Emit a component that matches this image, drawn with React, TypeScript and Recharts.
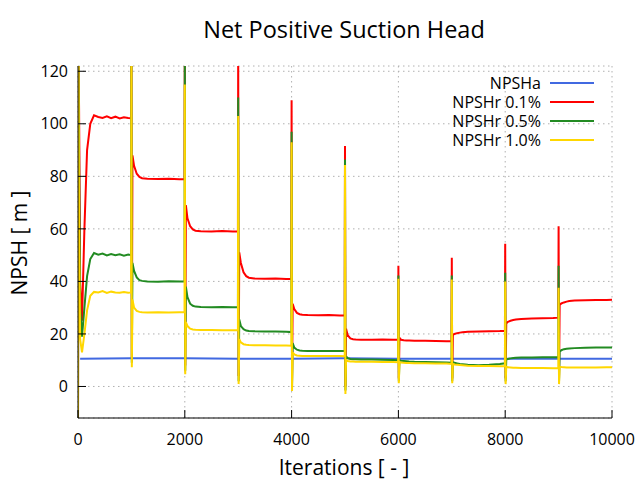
import { LineChart, Line, XAxis, YAxis, CartesianGrid } from 'recharts'

// sample iterations shared by the three NPSHr series
const iterations = [
  0, 8, 20, 40, 75, 120, 170, 230, 300, 380, 460, 540, 620, 700, 780, 860, 940, 995,
  1000, 1008, 1020, 1050, 1100, 1150, 1200, 1300, 1500, 1700, 1900, 1995,
  2000, 2008, 2020, 2050, 2100, 2150, 2200, 2300, 2500, 2700, 2900, 2995,
  3000, 3008, 3020, 3050, 3100, 3150, 3200, 3300, 3500, 3700, 3900, 3995,
  4000, 4008, 4020, 4050, 4100, 4150, 4200, 4300, 4500, 4700, 4900, 4995,
  5000, 5008, 5020, 5050, 5100, 5150, 5200, 5300, 5500, 5700, 5900, 5995,
  6000, 6008, 6020, 6050, 6100, 6150, 6200, 6300, 6500, 6700, 6900, 6995,
  7000, 7008, 7020, 7050, 7100, 7150, 7200, 7300, 7500, 7700, 7900, 7995,
  8000, 8008, 8020, 8050, 8100, 8150, 8200, 8300, 8500, 8700, 8900, 8995,
  9000, 9008, 9020, 9050, 9100, 9150, 9200, 9300, 9500, 9700, 9900, 10000,
]

const npshr01 = [
  -20, 130, 106, 40, 25, 60, 90, 100, 103.2, 102.6, 102.2, 102.8, 102.1, 102.7, 102.0, 102.5, 102.2, 102.1,
  130, 11, 88, 84, 81, 79.8, 79.3, 79.1, 79.0, 79.1, 78.9, 79.0,
  130, 8, 69, 64, 61, 59.8, 59.3, 59.1, 59.0, 59.2, 59.0, 59.1,
  130, 4, 51, 47, 43.5, 42, 41.4, 41.1, 41.0, 41.1, 40.9, 41.0,
  109, 2, 31.5, 29.5, 28, 27.5, 27.3, 27.2, 27.1, 27.2, 27.0, 27.1,
  91.5, 0, 22, 19.5, 18.3, 18.0, 17.9, 17.8, 17.8, 17.9, 17.8, 17.9,
  46, 3, 18.5, 17.8, 17.6, 17.5, 17.5, 17.4, 17.4, 17.3, 17.2, 17.2,
  49, 3, 19.6, 20.0, 20.3, 20.5, 20.6, 20.8, 20.9, 21.0, 21.1, 21.2,
  54.3, 3, 24.0, 24.6, 25.0, 25.3, 25.5, 25.7, 25.9, 26.0, 26.1, 26.2,
  61, 3, 31.0, 31.6, 32.0, 32.3, 32.5, 32.7, 32.8, 32.9, 32.9, 33.0,
]

const npshr05 = [
  -20, 130, 88, 30, 19, 30, 42, 48.5, 50.8, 50.2, 50.6, 49.9, 50.4, 50.0, 50.3, 49.8, 50.2, 50.0,
  130, 9, 47, 44, 41.5, 40.5, 40.2, 40.0, 39.9, 40.1, 40.0, 40.0,
  130, 6, 38, 34, 31.5, 30.7, 30.4, 30.3, 30.2, 30.3, 30.2, 30.2,
  110, 2, 25.5, 23, 21.8, 21.3, 21.1, 21.0, 20.9, 20.9, 20.8, 20.7,
  97, 0, 16.5, 14.8, 14.0, 13.7, 13.6, 13.5, 13.5, 13.5, 13.5, 13.5,
  86.4, -1.5, 11.5, 10.8, 10.5, 10.4, 10.4, 10.3, 10.3, 10.2, 10.1, 10.0,
  42.2, 2, 10.0, 9.8, 9.7, 9.6, 9.5, 9.4, 9.3, 9.2, 9.1, 9.0,
  42.2, 2, 9.3, 9.0, 8.8, 8.6, 8.5, 8.3, 8.1, 8.3, 8.6, 8.8,
  43.3, 2, 10.2, 10.5, 10.7, 10.8, 10.9, 11.0, 11.0, 11.1, 11.1, 11.2,
  46, 2, 13.2, 13.8, 14.2, 14.4, 14.5, 14.6, 14.7, 14.8, 14.8, 14.8,
]

const npshr10 = [
  -20, 130, 60, 18, 13, 20, 29, 34.5, 36.0, 35.8, 36.3, 35.6, 36.1, 35.8, 35.7, 36.0, 35.7, 35.8,
  130, 7.3, 33, 30, 28.8, 28.4, 28.3, 28.2, 28.3, 28.2, 28.3, 28.3,
  115, 4.7, 24.5, 23, 22, 21.7, 21.6, 21.5, 21.5, 21.4, 21.4, 21.4,
  103, 0.9, 18, 16.8, 16.1, 15.9, 15.8, 15.7, 15.7, 15.6, 15.6, 15.5,
  93, -1.7, 13, 12.2, 11.8, 11.7, 11.6, 11.6, 11.6, 11.6, 11.6, 11.5,
  84.3, -2.9, 10.2, 9.7, 9.5, 9.5, 9.4, 9.4, 9.4, 9.3, 9.3, 9.2,
  41, 1.2, 9.4, 9.1, 9.0, 8.9, 8.9, 8.8, 8.8, 8.7, 8.7, 8.6,
  40.7, 1.2, 8.6, 8.4, 8.3, 8.2, 8.1, 7.9, 7.8, 7.8, 7.7, 7.7,
  40, 0.9, 7.6, 7.3, 7.2, 7.1, 7.1, 7.0, 7.0, 7.0, 6.9, 7.0,
  37.6, 0.9, 7.6, 7.4, 7.3, 7.2, 7.2, 7.2, 7.2, 7.2, 7.3, 7.3,
]

// NPSHa is nearly flat, sampled coarser
const npshaIter = [40, 1000, 2000, 3000, 4000, 5000, 6000, 7000, 8000, 9000, 10000]
const npsha = [10.6, 10.7, 10.7, 10.6, 10.6, 10.7, 10.6, 10.6, 10.6, 10.6, 10.6]

const xTicks = [0, 2000, 4000, 6000, 8000, 10000]
const yTicks = [0, 20, 40, 60, 80, 100, 120]

const seriesNames = ['NPSHa', 'NPSHr 0.1%', 'NPSHr 0.5%', 'NPSHr 1.0%']
const seriesColors = ['#4169e1', '#ff0000', '#228b22', '#ffd700']

const font = "'Open Sans', 'DejaVu Sans', sans-serif"
const tickStyle = { fontSize: 16, fill: '#000', fontFamily: font }

export default function App() {
  const rows = iterations.map((it, i) => ({ it, r01: npshr01[i], r05: npshr05[i], r10: npshr10[i] }))
  const npshaRows = npshaIter.map((it, i) => ({ it, v: npsha[i] }))
  const keys = ['r01', 'r05', 'r10']

  return (
    <div style={{ position: 'absolute', left: 0, top: 0, width: 640, height: 480, background: '#fff' }}>
      <LineChart width={640} height={480} data={rows} margin={{ top: 66, right: 28, bottom: 0, left: 0 }}>
        <CartesianGrid stroke="#b0b0b0" strokeDasharray="1.5 3.5" />
        <XAxis
          dataKey="it" type="number" domain={[0, 10000]} ticks={xTicks} interval={0}
          height={62} tickSize={-8} tickMargin={24} stroke="#000" tick={tickStyle} allowDataOverflow
        />
        <XAxis
          xAxisId="top" orientation="top" dataKey="it" type="number" domain={[0, 10000]}
          ticks={xTicks} interval={0} height={0} tickSize={-8} tick={false} stroke="#000"
        />
        <YAxis
          type="number" domain={[-12, 122]} ticks={yTicks} interval={0} width={78}
          tickSize={-8} tickMargin={18} stroke="#000" tick={tickStyle} allowDataOverflow
        />
        <YAxis
          yAxisId="right" orientation="right" type="number" domain={[-12, 122]} ticks={yTicks}
          interval={0} width={0} tickSize={-8} tick={false} stroke="#000"
        />
        <Line
          data={npshaRows} dataKey="v" name={seriesNames[0]} type="linear" stroke={seriesColors[0]}
          strokeWidth={2} dot={false} activeDot={false} isAnimationActive={false}
        />
        {keys.map((k, i) => (
          <Line
            key={k} dataKey={k} name={seriesNames[i + 1]} type="linear" stroke={seriesColors[i + 1]}
            strokeWidth={2} dot={false} activeDot={false} isAnimationActive={false}
          />
        ))}
      </LineChart>

      <svg width={640} height={480} style={{ position: 'absolute', left: 0, top: 0, pointerEvents: 'none' }}>
        <text x={344} y={38} textAnchor="middle" fontSize={23.5} fontFamily={font} fill="#000">
          Net Positive Suction Head
        </text>
        <text x={344} y={475} textAnchor="middle" fontSize={21} fontFamily={font} fill="#000">
          Iterations [ - ]
        </text>
        <text transform="translate(26.5, 243) rotate(-90)" textAnchor="middle" fontSize={21} fontFamily={font} fill="#000">
          NPSH [ m ]
        </text>
        {seriesNames.map((name, i) => (
          <g key={name}>
            <text x={541} y={88.5 + i * 19} textAnchor="end" fontSize={16} fontFamily={font} fill="#000">
              {name}
            </text>
            <line x1={550} x2={594} y1={83 + i * 19} y2={83 + i * 19} stroke={seriesColors[i]} strokeWidth={2} />
          </g>
        ))}
      </svg>
    </div>
  )
}
